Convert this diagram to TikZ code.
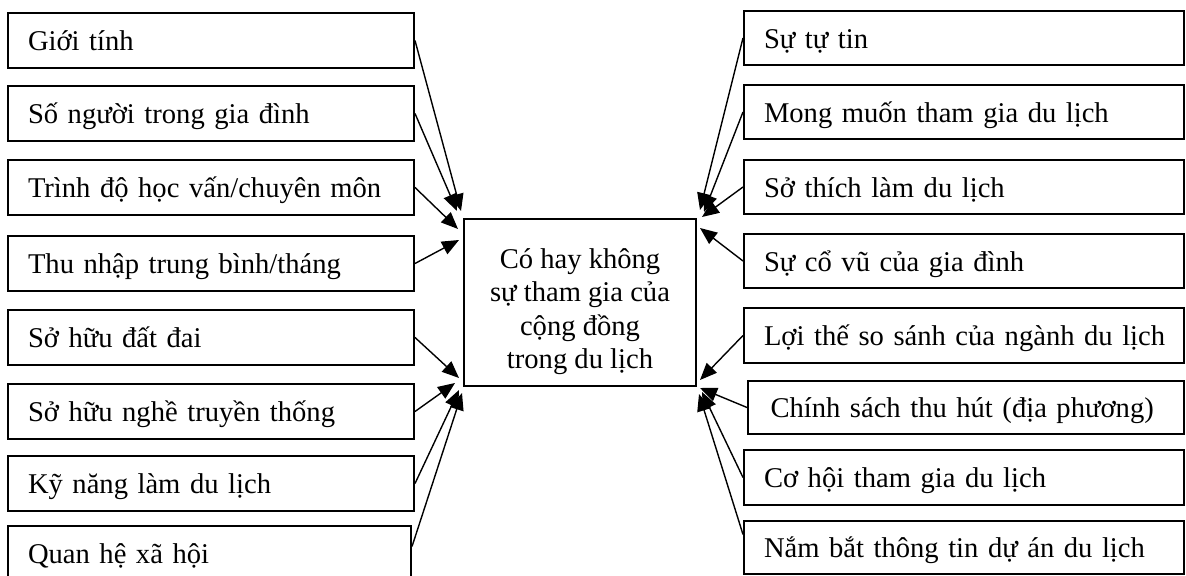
\documentclass[tikz,border=0pt]{standalone}
\usepackage{fontspec}
\setmainfont{Liberation Serif}
\usetikzlibrary{arrows.meta,calc}
\begin{document}
\begin{tikzpicture}[x=0.5pt,y=-0.5pt,
  box/.style={draw, line width=1pt, anchor=north west, align=left, inner xsep=10pt, inner ysep=0pt,
    minimum height=27.5pt, text height=12.2pt, text depth=1.8pt,
    font=\fontsize{14.3pt}{17pt}\selectfont,
    execute at begin node=\leavevmode\hbox\bgroup, execute at end node=\egroup},
  lbox/.style={box, text width=183pt},
  rbox/.style={box, text width=200pt},
  cbox/.style={draw, line width=1pt, anchor=north west, align=center, inner sep=0pt,
    minimum width=116pt, minimum height=83.5pt, font=\fontsize{14.3pt}{16.7pt}\selectfont},
  arr/.style={line width=0.7pt, -{Triangle[length=8.5pt,width=7pt]}}]
\useasboundingbox (0,0) rectangle (1186,576);
\clip (0,0) rectangle (1186,576);
% left column
\node[lbox] (l1) at (7,12) {Giới tính};
\node[lbox] (l2) at (7,85) {Số người trong gia đình};
\node[lbox] (l3) at (7,159) {Trình độ học vấn/chuyên môn};
\node[lbox] (l4) at (7,235) {Thu nhập trung bình/tháng};
\node[lbox] (l5) at (7,309) {Sở hữu đất đai};
\node[lbox] (l6) at (7,383) {Sở hữu nghề truyền thống};
\node[lbox] (l7) at (7,455) {Kỹ năng làm du lịch};
\node[box, text width=181.5pt] (l8) at (7,525) {Quan hệ xã hội};
% centre
\node[cbox] (c) at (463,218) {\rule{0pt}{19pt}Có hay không\\sự tham gia của\\cộng đồng\\trong du lịch};
% right column
\node[rbox, minimum height=27pt] (r1) at (743,10) {Sự tự tin};
\node[rbox, minimum height=27pt] (r2) at (743,84) {Mong muốn tham gia du lịch};
\node[rbox, minimum height=27pt] (r3) at (743,159) {Sở thích làm du lịch};
\node[rbox, minimum height=27pt] (r4) at (743,233) {Sự cổ vũ của gia đình};
\node[rbox] (r5) at (743,307) {Lợi thế so sánh của ngành du lịch};
\node[rbox, text width=195.5pt, inner xsep=11.25pt, minimum height=26.5pt] (r6) at (747,380) {Chính sách thu hút (địa phương)};
\node[rbox] (r7) at (743,449) {Cơ hội tham gia du lịch};
\node[rbox, minimum height=26.5pt] (r8) at (743,520) {Nắm bắt thông tin dự án du lịch};
% left arrows
\draw[arr] (l1.east) -- ($(c.north west)+(-2,-7)$);
\draw[arr] (l2.east) -- ($(c.north west)+(-6,-7)$);
\draw[arr] (l3.east) -- ($(c.north west)+(-5,11)$);
\draw[arr] (l4.east) -- ($(c.north west)+(-4,22)$);
\draw[arr] (l5.east) -- ($(c.south west)+(-4,-9)$);
\draw[arr] (l6.east) -- ($(c.south west)+(-8,-4)$);
\draw[arr] (l7.east) -- ($(c.south west)+(-4,3)$);
\draw[arr] ($(l8.east)+(0,-7)$) -- ($(c.south west)+(-1,6)$);
% right arrows
\draw[arr] (r1.west) -- ($(c.north east)+(3,-8)$);
\draw[arr] (r2.west) -- ($(c.north east)+(7,-6)$);
\draw[arr] (r3.west) -- ($(c.north east)+(5,-1)$);
\draw[arr] (r4.west) -- ($(c.north east)+(3,10)$);
\draw[arr] (r5.west) -- ($(c.south east)+(3,-7)$);
\draw[arr] (r6.west) -- ($(c.south east)+(3,1)$);
\draw[arr] (r7.west) -- ($(c.south east)+(5,5)$);
\draw[arr] ($(r8.west)+(0,-13)$) -- ($(c.south east)+(2,7)$);
\end{tikzpicture}
\end{document}
